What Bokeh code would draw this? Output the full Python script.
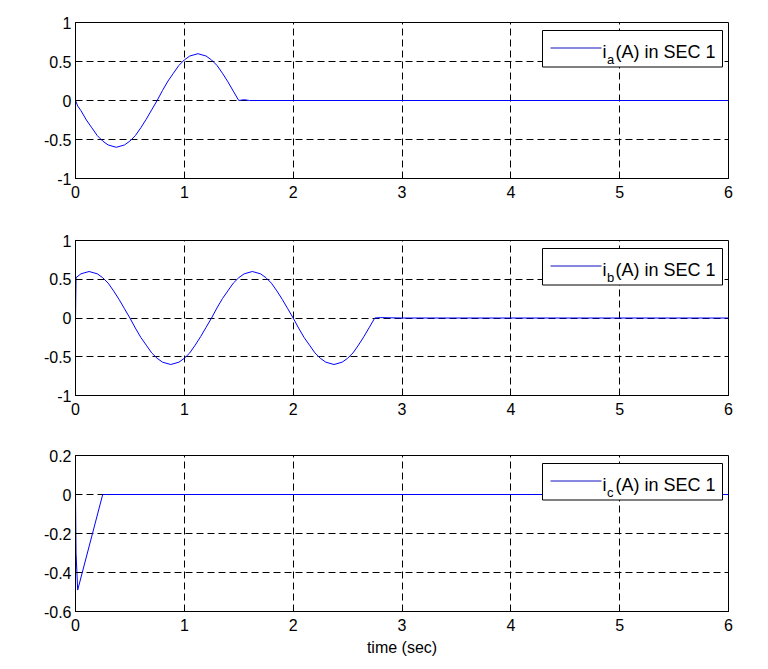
from bokeh.plotting import figure
from bokeh.layouts import column
from bokeh.models import Range1d, FixedTicker, BoxAnnotation, Label, Arrow
from bokeh.embed import file_html
from bokeh.resources import INLINE

# ---------------- data ----------------
ia_t = [0, 0.02, 0.05, 0.1, 0.15, 0.2, 0.25, 0.3, 0.375, 0.45, 0.5, 0.55, 0.6, 0.65, 0.7,
        0.75, 0.8, 0.85, 0.9, 0.95, 1.0, 1.05, 1.125, 1.2, 1.25, 1.3, 1.35, 1.4, 1.45,
        1.5, 1.55, 1.6, 2.0, 3.0, 4.0, 5.0, 6.0]
ia = [0, -0.07, -0.13, -0.25, -0.35, -0.45, -0.52, -0.57, -0.6, -0.57, -0.52, -0.45,
      -0.35, -0.24, -0.12, 0.0, 0.13, 0.25, 0.35, 0.45, 0.52, 0.57, 0.6, 0.57, 0.52,
      0.45, 0.35, 0.24, 0.12, 0.0, 0.01, 0.0, 0.0, 0.0, 0.0, 0.0, 0.0]

ib_t = [0, 0.005, 0.05, 0.125, 0.2, 0.25, 0.3, 0.35, 0.4, 0.45, 0.5, 0.55, 0.6, 0.65,
        0.7, 0.75, 0.8, 0.875, 0.95, 1.0, 1.05, 1.1, 1.15, 1.2, 1.25, 1.3, 1.35, 1.4,
        1.45, 1.5, 1.55, 1.625, 1.7, 1.75, 1.8, 1.85, 1.9, 1.95, 2.0, 2.05, 2.1, 2.15,
        2.2, 2.25, 2.3, 2.375, 2.45, 2.5, 2.55, 2.6, 2.65, 2.7, 2.75, 2.8, 3.0, 4.0,
        5.0, 6.0]
ib = [0.0, 0.52, 0.57, 0.6, 0.57, 0.52, 0.45, 0.35, 0.24, 0.12, 0.0, -0.13, -0.25,
      -0.35, -0.45, -0.52, -0.57, -0.6, -0.57, -0.52, -0.45, -0.35, -0.24, -0.12, 0.0,
      0.13, 0.25, 0.35, 0.45, 0.52, 0.57, 0.6, 0.57, 0.52, 0.45, 0.35, 0.24, 0.12, 0.0,
      -0.13, -0.25, -0.35, -0.45, -0.52, -0.57, -0.6, -0.57, -0.52, -0.45, -0.35,
      -0.24, -0.12, 0.0, 0.005, 0.0, 0.0, 0.0, 0.0]

ic_t = [0, 0.005, 0.02, 0.25, 1.0, 2.0, 3.0, 4.0, 5.0, 6.0]
ic = [0.0, -0.3, -0.49, 0.0, 0.0, 0.0, 0.0, 0.0, 0.0, 0.0]

x_ticks = [0, 1, 2, 3, 4, 5, 6]
x_tick_labels = ["0", "1", "2", "3", "4", "5", "6"]
y_ticks_ab = [-1, -0.5, 0, 0.5, 1]
y_tick_labels_ab = ["-1", "-0.5", "0", "0.5", "1"]
y_ticks_c = [-0.6, -0.4, -0.2, 0, 0.2]
y_tick_labels_c = ["-0.6", "-0.4", "-0.2", "0", "0.2"]

subs = ["a", "b", "c"]
legend_rest = "(A) in SEC 1"
x_label = "time (sec)"

# ---------------- layout ----------------
FONT = "Liberation Sans"
W = 768
LEFT = 75
RIGHT = 40
FRAME_W = W - LEFT - RIGHT
X_RANGE = (0, 6)


def fx(px):
    return X_RANGE[0] + (px - LEFT) * (X_RANGE[1] - X_RANGE[0]) / FRAME_W


def fy(dy, yr, fh):
    return yr[1] - dy * (yr[1] - yr[0]) / fh


def make_panel(t, y, yr, yticks, ylabels, sub, top, fh, bottom, xlabel=None):
    p = figure(width=W, height=top + fh + bottom, output_backend="svg",
               toolbar_location=None, min_border_left=LEFT, min_border_right=RIGHT,
               min_border_top=top, min_border_bottom=bottom,
               x_range=Range1d(*X_RANGE), y_range=Range1d(*yr))
    p.background_fill_color = "white"
    p.border_fill_color = "white"
    p.outline_line_color = "black"
    p.outline_line_width = 1
    p.outline_line_alpha = 1

    p.xaxis.ticker = FixedTicker(ticks=x_ticks)
    p.xaxis.major_label_overrides = {k: v for k, v in zip(x_ticks, x_tick_labels)}
    p.yaxis.ticker = FixedTicker(ticks=yticks)
    p.yaxis.major_label_overrides = {k: v for k, v in zip(yticks, ylabels)}
    for ax in (p.xaxis, p.yaxis):
        ax.axis_line_color = "black"
        ax.major_tick_in = 5
        ax.major_tick_out = 0
        ax.minor_tick_line_color = None
        ax.major_tick_line_color = "black"
        ax.major_label_text_font = FONT
        ax.major_label_text_font_size = "16px"
        ax.major_label_text_color = "black"
    p.yaxis.major_label_standoff = 4
    p.xaxis.major_label_standoff = 7
    if xlabel:
        p.xaxis.axis_label = xlabel
        p.xaxis.axis_label_text_font = FONT
        p.xaxis.axis_label_text_font_size = "16px"
        p.xaxis.axis_label_text_font_style = "normal"
        p.xaxis.axis_label_text_color = "black"
        p.xaxis.axis_label_standoff = 5

    for g in (p.xgrid, p.ygrid):
        g.grid_line_color = "black"
        g.grid_line_dash = "7 4"
        g.grid_line_width = 1
        g.grid_line_alpha = 1
    p.xgrid.ticker = FixedTicker(ticks=x_ticks)
    p.ygrid.ticker = FixedTicker(ticks=yticks)

    p.line(t, y, line_color="#0000ff", line_width=1)

    # legend (drawn by hand to allow a subscript)
    box = BoxAnnotation(left=fx(542), right=fx(722), top=fy(8, yr, fh), bottom=fy(44.5, yr, fh),
                        fill_color="white", fill_alpha=1, line_color="black", line_width=1,
                        line_alpha=1)
    p.add_layout(box)
    ly = fy(25.5, yr, fh)
    p.add_layout(Arrow(x_start=fx(550), y_start=ly, x_end=fx(601), y_end=ly, start=None, end=None,
                       line_color="#1010c0", line_width=1))
    p.add_layout(Label(x=fx(602), y=fy(29.5, yr, fh), text="i", text_font=FONT,
                       text_font_size="18px", text_color="black", text_baseline="alphabetic"))
    p.add_layout(Label(x=fx(606.5), y=fy(36.5, yr, fh), text=sub, text_font=FONT,
                       text_font_size="13px", text_color="black", text_baseline="alphabetic"))
    p.add_layout(Label(x=fx(615), y=fy(29.5, yr, fh), text=legend_rest, text_font=FONT,
                       text_font_size="18px", text_color="black", text_baseline="alphabetic"))
    return p


p1 = make_panel(ia_t, ia, (-1, 1), y_ticks_ab, y_tick_labels_ab, subs[0], 22, 156, 32)
p2 = make_panel(ib_t, ib, (-1, 1), y_ticks_ab, y_tick_labels_ab, subs[1], 30, 155, 30)
p3 = make_panel(ic_t, ic, (-0.6, 0.2), y_ticks_c, y_tick_labels_c, subs[2], 30, 156, 58, x_label)

p = column(p1, p2, p3, spacing=0)
open("out.html", "w").write(file_html(p, INLINE))
